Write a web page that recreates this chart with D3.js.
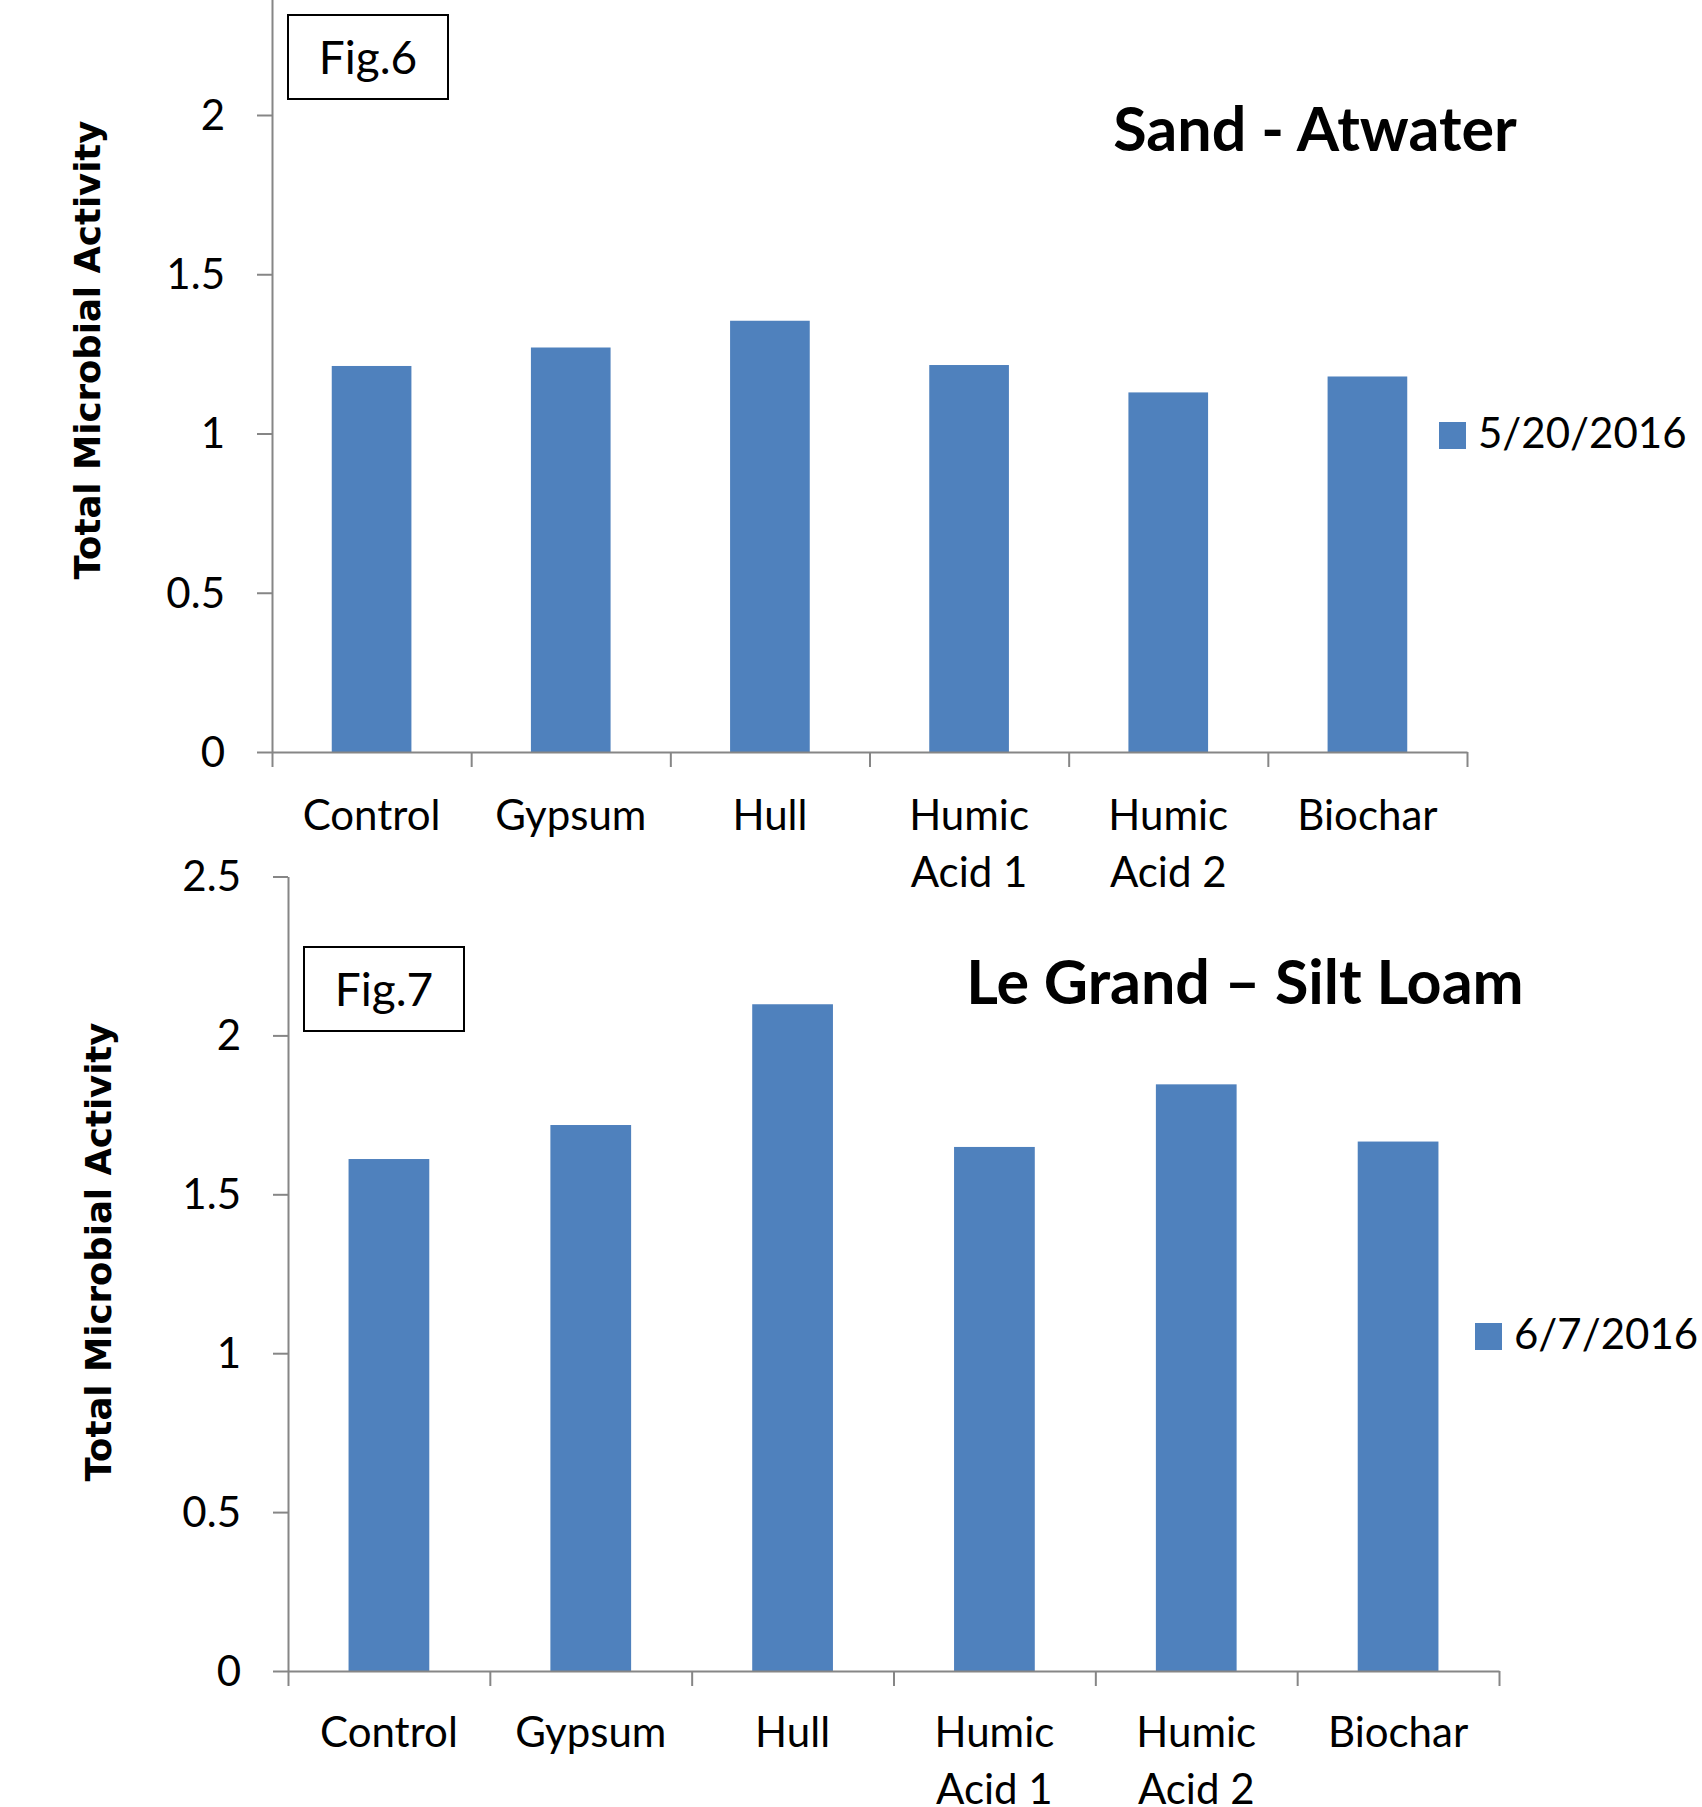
<!DOCTYPE html>
<html>
<head>
<meta charset="utf-8">
<script src="https://cdn.jsdelivr.net/npm/d3@7"></script>
<style>
  html, body { margin: 0; padding: 0; background: #fff; }
  svg { display: block; }
</style>
</head>
<body>
<div id="chart"></div>
<script>
// Data.
const categories = ["Control", "Gypsum", "Hull", "Humic Acid 1", "Humic Acid 2", "Biochar"];
const sandValues = [1.212, 1.27, 1.354, 1.215, 1.129, 1.179];
const siltValues = [1.611, 1.718, 2.098, 1.649, 1.846, 1.666];
const sandTicks = [0, 0.5, 1, 1.5, 2];
const siltTicks = [0, 0.5, 1, 1.5, 2, 2.5];
const sandSeries = "5/20/2016";
const siltSeries = "6/7/2016";

const width = 1702;
const height = 1807;
const barColor = "#4F81BD";
const axisColor = "#868686";
const labelFont = "Lato, 'Open Sans', sans-serif";

const svg = d3
  .select("#chart")
  .append("svg")
  .attr("width", width)
  .attr("height", height);

// Wrap a category label onto several lines when it is wider than the band.
function wrap(text, maxWidth, lineHeight) {
  text.each(function () {
    const el = d3.select(this);
    const words = el.text().split(/\s+/);
    const x = el.attr("x");
    el.text(null);
    let line = [];
    let tspan = el.append("tspan").attr("x", x).attr("dy", 0);
    words.forEach((word) => {
      line.push(word);
      tspan.text(line.join(" "));
      if (tspan.node().getComputedTextLength() > maxWidth && line.length > 1) {
        line.pop();
        tspan.text(line.join(" "));
        line = [word];
        tspan = el.append("tspan").attr("x", x).attr("dy", lineHeight).text(word);
      }
    });
  });
}

/**
 * Draws one bar chart panel.
 */
function barPanel(values, ticks, opts) {
  const { left, right, zero, unit, title, fig, legend, yTitle, series } = opts;

  // Scales.
  const x = d3
    .scaleBand()
    .domain(categories)
    .range([left, right])
    .paddingInner(0.6)
    .paddingOuter(0.3);

  const y = d3
    .scaleLinear()
    .domain([0, 2.5])
    .range([zero, zero - 2.5 * unit]);

  // Category boundaries for the x tick marks.
  const xb = d3.scaleLinear().domain([0, categories.length]).range([left, right]);

  // Bars.
  svg
    .append("g")
    .selectAll("rect")
    .data(values)
    .join("rect")
    .attr("x", (d, i) => x(categories[i]))
    .attr("y", (d) => y(d))
    .attr("width", x.bandwidth())
    .attr("height", (d) => y(0) - y(d))
    .attr("fill", barColor);

  // y-axis.
  const yAxis = svg
    .append("g")
    .attr("transform", `translate(${left},0)`)
    .call(
      d3
        .axisLeft(y)
        .tickValues(ticks)
        .tickSize(15)
        .tickSizeOuter(0)
        .tickPadding(32)
        .tickFormat(d3.format("~g"))
    );
  yAxis.selectAll("path, line").attr("stroke", axisColor).attr("stroke-width", 2);
  yAxis
    .selectAll("text")
    .attr("fill", "#000")
    .attr("font-family", labelFont)
    .attr("font-size", 42)
    .attr("dy", "0.34em");

  // x-axis with tick marks between categories.
  const xAxis = svg
    .append("g")
    .attr("transform", `translate(0,${zero})`)
    .call(
      d3
        .axisBottom(xb)
        .tickValues(d3.range(categories.length + 1))
        .tickSize(15)
        .tickSizeOuter(0)
        .tickFormat("")
    );
  xAxis.selectAll("path, line").attr("stroke", axisColor).attr("stroke-width", 2);

  // Category labels.
  svg
    .append("g")
    .selectAll("text")
    .data(categories)
    .join("text")
    .attr("x", (d) => x(d) + x.bandwidth() / 2)
    .attr("y", zero + opts.labelOffset)
    .attr("text-anchor", "middle")
    .attr("font-family", labelFont)
    .attr("font-size", 42)
    .attr("fill", "#000")
    .text((d) => d)
    .call(wrap, x.step() * 0.9, 57);

  // Title.
  svg
    .append("text")
    .attr("x", title.x)
    .attr("y", title.y)
    .attr("text-anchor", "middle")
    .attr("font-family", labelFont)
    .attr("font-weight", "bold")
    .attr("font-size", 61)
    .text(title.text);

  // Figure tag in a box.
  svg
    .append("rect")
    .attr("x", fig.x)
    .attr("y", fig.y)
    .attr("width", 160)
    .attr("height", 84)
    .attr("fill", "#fff")
    .attr("stroke", "#000")
    .attr("stroke-width", 2);
  svg
    .append("text")
    .attr("x", fig.x + 80)
    .attr("y", fig.y + 59)
    .attr("text-anchor", "middle")
    .attr("font-family", labelFont)
    .attr("font-size", 46)
    .text(fig.text);

  // y-axis title.
  svg
    .append("text")
    .attr("transform", `translate(${yTitle.x},${yTitle.y}) rotate(-90)`)
    .attr("text-anchor", "middle")
    .attr("font-family", "'DejaVu Sans', Verdana, sans-serif")
    .attr("font-weight", "bold")
    .attr("font-size", 35.5)
    .text("Total Microbial Activity");

  // Legend.
  svg
    .append("rect")
    .attr("x", legend.x)
    .attr("y", legend.y)
    .attr("width", 27)
    .attr("height", 27)
    .attr("fill", barColor);
  svg
    .append("text")
    .attr("x", legend.x + 39)
    .attr("y", legend.y + 26)
    .attr("font-family", labelFont)
    .attr("font-size", 42)
    .text(series);
}

// Fig.6: Sand - Atwater.
barPanel(sandValues, sandTicks, {
  left: 272,
  right: 1467,
  zero: 752,
  unit: 318.5,
  labelOffset: 78,
  title: { text: "Sand - Atwater", x: 1315, y: 151 },
  fig: { text: "Fig.6", x: 288, y: 15 },
  legend: { x: 1439, y: 422 },
  yTitle: { x: 100, y: 350 },
  series: sandSeries,
});

// Fig.7: Le Grand – Silt Loam.
barPanel(siltValues, siltTicks, {
  left: 288,
  right: 1499,
  zero: 1671,
  unit: 317.8,
  labelOffset: 76,
  title: { text: "Le Grand \u2013 Silt Loam", x: 1245, y: 1004 },
  fig: { text: "Fig.7", x: 304, y: 947 },
  legend: { x: 1475, y: 1323 },
  yTitle: { x: 111, y: 1252 },
  series: siltSeries,
});
</script>
</body>
</html>
